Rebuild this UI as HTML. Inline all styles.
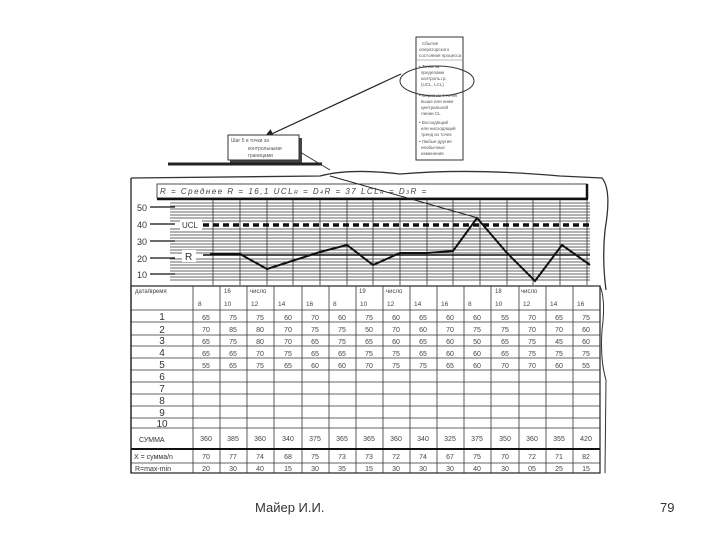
<!DOCTYPE html>
<html><head><meta charset="utf-8"><style>
html,body{margin:0;padding:0;background:#fff;width:720px;height:540px;overflow:hidden}
svg text{font-family:"Liberation Sans",sans-serif}
</style></head><body>
<svg width="720" height="540" viewBox="0 0 720 540" xmlns="http://www.w3.org/2000/svg">
<defs><marker id="ah" markerWidth="8" markerHeight="8" refX="7" refY="4" orient="auto"><path d="M0,0 L8,4 L0,8 z" fill="#222"/></marker></defs>
<!-- right process box -->
<rect x="416" y="37" width="47" height="123" fill="#fff" stroke="#333" stroke-width="1"/>
<g font-size="4.5" fill="#555">
<text x="422" y="45">Сбытие</text><text x="419" y="51">операторского</text><text x="419" y="57">состояния процесса</text>
<line x1="417" y1="60" x2="462" y2="60" stroke="#777" stroke-width="0.6"/>
<text x="419" y="68">• Точка за</text><text x="421" y="74">пределами</text><text x="421" y="80">контроль.гр.</text><text x="421" y="86">(UCL, LCL)</text>
<text x="419" y="97">• Серия из 7 точек</text><text x="421" y="103">выше или ниже</text><text x="421" y="109">центральной</text><text x="421" y="115">линии CL</text>
<text x="419" y="124">• Восходящий</text><text x="421" y="130">или нисходящий</text><text x="421" y="136">тренд из точек</text>
<text x="419" y="143">• Любые другие</text><text x="421" y="149">необычные</text><text x="421" y="155">изменения</text>
</g>
<ellipse cx="437" cy="81" rx="37" ry="15" fill="none" stroke="#333" stroke-width="1"/>
<line x1="401" y1="74" x2="265" y2="137" stroke="#222" stroke-width="1.2" marker-end="url(#ah)"/>
<!-- small box -->
<rect x="230" y="138" width="72" height="25" fill="#444"/>
<rect x="228" y="135" width="71" height="25" fill="#fff" stroke="#333"/>
<g font-size="5" fill="#555"><text x="231" y="142">Шаг 5 и точки за</text><text x="248" y="150">контрольными</text><text x="248" y="157">границами</text></g>
<line x1="300" y1="152" x2="330" y2="170" stroke="#333" stroke-width="1"/>
<!-- frame -->
<path d="M131,178 L320,176 Q350,168 400,174 Q470,168 560,176 L602,178 Q612,190 605,230 Q602,260 606,290" fill="none" stroke="#333" stroke-width="1.3"/>
<line x1="131" y1="178" x2="131" y2="473" stroke="#222" stroke-width="1.3"/>
<line x1="168" y1="164" x2="322" y2="164" stroke="#222" stroke-width="3"/>
<!-- header bar -->
<rect x="157" y="184" width="430" height="14" fill="#fff" stroke="#222" stroke-width="0.8"/>
<line x1="157" y1="199" x2="588" y2="199" stroke="#111" stroke-width="2.5"/>
<line x1="587" y1="184" x2="587" y2="199" stroke="#111" stroke-width="2.5"/>
<text x="160" y="194" font-size="8" fill="#444" font-style="italic" letter-spacing="1.5">R = Среднее R = 16,1    UCL<tspan font-size="5">R</tspan> = D<tspan font-size="5">4</tspan>R = 37    LCL<tspan font-size="5">R</tspan> = D<tspan font-size="5">3</tspan>R =</text>
<!-- grid -->
<g stroke="#333" stroke-width="0.8">
<line x1="170" y1="203" x2="590" y2="203"/><line x1="170" y1="206" x2="590" y2="206"/><line x1="170" y1="209" x2="590" y2="209"/><line x1="170" y1="212" x2="590" y2="212"/><line x1="170" y1="215" x2="590" y2="215"/><line x1="170" y1="218" x2="590" y2="218"/><line x1="170" y1="221" x2="590" y2="221"/>
<line x1="170" y1="229" x2="590" y2="229"/><line x1="170" y1="232" x2="590" y2="232"/><line x1="170" y1="235" x2="590" y2="235"/><line x1="170" y1="238" x2="590" y2="238"/><line x1="170" y1="241" x2="590" y2="241"/><line x1="170" y1="244" x2="590" y2="244"/><line x1="170" y1="247" x2="590" y2="247"/><line x1="170" y1="250" x2="590" y2="250"/><line x1="170" y1="253" x2="590" y2="253"/>
<line x1="170" y1="259" x2="590" y2="259"/><line x1="170" y1="262" x2="590" y2="262"/><line x1="170" y1="265" x2="590" y2="265"/><line x1="170" y1="268" x2="590" y2="268"/><line x1="170" y1="271" x2="590" y2="271"/><line x1="170" y1="274" x2="590" y2="274"/><line x1="170" y1="277" x2="590" y2="277"/><line x1="170" y1="280" x2="590" y2="280"/>
</g>
<g stroke="#333" stroke-width="0.8">
<line x1="213" y1="200" x2="213" y2="285"/><line x1="240" y1="200" x2="240" y2="285"/><line x1="267" y1="200" x2="267" y2="285"/><line x1="293" y1="200" x2="293" y2="285"/><line x1="320" y1="200" x2="320" y2="285"/><line x1="347" y1="200" x2="347" y2="285"/><line x1="373" y1="200" x2="373" y2="285"/><line x1="400" y1="200" x2="400" y2="285"/><line x1="427" y1="200" x2="427" y2="285"/><line x1="453" y1="200" x2="453" y2="285"/><line x1="480" y1="200" x2="480" y2="285"/><line x1="507" y1="200" x2="507" y2="285"/><line x1="533" y1="200" x2="533" y2="285"/><line x1="560" y1="200" x2="560" y2="285"/><line x1="587" y1="200" x2="587" y2="285"/>
</g>
<g stroke="#111" stroke-width="1.3">
<line x1="150" y1="207" x2="175" y2="207"/><line x1="150" y1="224" x2="175" y2="224"/><line x1="150" y1="241" x2="175" y2="241"/><line x1="150" y1="258" x2="175" y2="258"/><line x1="150" y1="274" x2="175" y2="274"/>
</g>
<g font-size="9" fill="#333"><text x="137" y="211">50</text><text x="137" y="228">40</text><text x="137" y="245">30</text><text x="137" y="262">20</text><text x="137" y="278">10</text></g>
<rect x="180" y="219" width="22" height="11" fill="#fff"/><text x="182" y="228" font-size="8" fill="#333">UCL</text>
<rect x="182" y="250" width="14" height="12" fill="#fff"/><text x="185" y="260" font-size="10" fill="#333">R</text>
<line x1="203" y1="225" x2="590" y2="225" stroke="#111" stroke-width="3.5" stroke-dasharray="6,4"/>
<line x1="203" y1="255" x2="590" y2="255" stroke="#111" stroke-width="1.5"/>
<polyline points="210,254 240,254 267,269 320,252 347,245 373,265 400,253 427,253 453,251 477,218 507,253 535,281 562,245 590,265" fill="none" stroke="#111" stroke-width="2"/>
<line x1="330" y1="176" x2="478" y2="218" stroke="#222" stroke-width="1"/>
<!-- table -->
<rect x="131" y="286" width="469" height="187" fill="none" stroke="#222" stroke-width="1.2"/>
<g stroke="#333" stroke-width="0.8">
<line x1="131" y1="310" x2="600" y2="310"/><line x1="131" y1="322" x2="600" y2="322"/><line x1="131" y1="335" x2="600" y2="335"/><line x1="131" y1="346" x2="600" y2="346"/><line x1="131" y1="358" x2="600" y2="358"/><line x1="131" y1="370" x2="600" y2="370"/><line x1="131" y1="382" x2="600" y2="382"/><line x1="131" y1="394" x2="600" y2="394"/><line x1="131" y1="406" x2="600" y2="406"/><line x1="131" y1="418" x2="600" y2="418"/><line x1="131" y1="428" x2="600" y2="428"/><line x1="131" y1="463" x2="600" y2="463"/>
<line x1="193" y1="286" x2="193" y2="473"/><line x1="220" y1="286" x2="220" y2="473"/><line x1="247" y1="286" x2="247" y2="473"/><line x1="274" y1="286" x2="274" y2="473"/><line x1="302" y1="286" x2="302" y2="473"/><line x1="329" y1="286" x2="329" y2="473"/><line x1="356" y1="286" x2="356" y2="473"/><line x1="383" y1="286" x2="383" y2="473"/><line x1="410" y1="286" x2="410" y2="473"/><line x1="437" y1="286" x2="437" y2="473"/><line x1="464" y1="286" x2="464" y2="473"/><line x1="491" y1="286" x2="491" y2="473"/><line x1="519" y1="286" x2="519" y2="473"/><line x1="546" y1="286" x2="546" y2="473"/><line x1="573" y1="286" x2="573" y2="473"/>
</g>
<line x1="131" y1="449" x2="600" y2="449" stroke="#111" stroke-width="2"/>
<g font-size="6" fill="#444">
<text x="135" y="293">дата/время</text>
<text x="224" y="293">16</text><text x="250" y="293">число</text><text x="359" y="293">19</text><text x="386" y="293">число</text><text x="495" y="293">18</text><text x="521" y="293">число</text>
<g font-size="6.5">
<text x="198" y="306">8</text><text x="224" y="306">10</text><text x="251" y="306">12</text><text x="278" y="306">14</text><text x="306" y="306">16</text><text x="333" y="306">8</text><text x="360" y="306">10</text><text x="387" y="306">12</text><text x="414" y="306">14</text><text x="441" y="306">16</text><text x="468" y="306">8</text><text x="495" y="306">10</text><text x="523" y="306">12</text><text x="550" y="306">14</text><text x="577" y="306">16</text>
</g></g>
<g font-size="10" fill="#333" text-anchor="middle">
<text x="162" y="320">1</text><text x="162" y="333">2</text><text x="162" y="344">3</text><text x="162" y="356">4</text><text x="162" y="368">5</text><text x="162" y="380">6</text><text x="162" y="392">7</text><text x="162" y="404">8</text><text x="162" y="416">9</text><text x="162" y="427">10</text>
</g>
<g font-size="7" fill="#333"><text x="139" y="442">СУММА</text><text x="134" y="459">X = сумма/n</text><text x="135" y="471">R=max-min</text></g>
<g font-size="7" fill="#444" text-anchor="middle">
<text y="320"><tspan x="206">65</tspan><tspan x="233">75</tspan><tspan x="260">75</tspan><tspan x="288">60</tspan><tspan x="315">70</tspan><tspan x="342">60</tspan><tspan x="369">75</tspan><tspan x="396">60</tspan><tspan x="423">65</tspan><tspan x="450">60</tspan><tspan x="477">60</tspan><tspan x="505">55</tspan><tspan x="532">70</tspan><tspan x="559">65</tspan><tspan x="586">75</tspan></text>
<text y="332"><tspan x="206">70</tspan><tspan x="233">85</tspan><tspan x="260">80</tspan><tspan x="288">70</tspan><tspan x="315">75</tspan><tspan x="342">75</tspan><tspan x="369">50</tspan><tspan x="396">70</tspan><tspan x="423">60</tspan><tspan x="450">70</tspan><tspan x="477">75</tspan><tspan x="505">75</tspan><tspan x="532">70</tspan><tspan x="559">70</tspan><tspan x="586">60</tspan></text>
<text y="344"><tspan x="206">65</tspan><tspan x="233">75</tspan><tspan x="260">80</tspan><tspan x="288">70</tspan><tspan x="315">65</tspan><tspan x="342">75</tspan><tspan x="369">65</tspan><tspan x="396">60</tspan><tspan x="423">65</tspan><tspan x="450">60</tspan><tspan x="477">50</tspan><tspan x="505">65</tspan><tspan x="532">75</tspan><tspan x="559">45</tspan><tspan x="586">60</tspan></text>
<text y="356"><tspan x="206">65</tspan><tspan x="233">65</tspan><tspan x="260">70</tspan><tspan x="288">75</tspan><tspan x="315">65</tspan><tspan x="342">65</tspan><tspan x="369">75</tspan><tspan x="396">75</tspan><tspan x="423">65</tspan><tspan x="450">60</tspan><tspan x="477">60</tspan><tspan x="505">65</tspan><tspan x="532">75</tspan><tspan x="559">75</tspan><tspan x="586">75</tspan></text>
<text y="368"><tspan x="206">55</tspan><tspan x="233">65</tspan><tspan x="260">75</tspan><tspan x="288">65</tspan><tspan x="315">60</tspan><tspan x="342">60</tspan><tspan x="369">70</tspan><tspan x="396">75</tspan><tspan x="423">75</tspan><tspan x="450">65</tspan><tspan x="477">60</tspan><tspan x="505">70</tspan><tspan x="532">70</tspan><tspan x="559">60</tspan><tspan x="586">55</tspan></text>
<text y="441"><tspan x="206">360</tspan><tspan x="233">385</tspan><tspan x="260">360</tspan><tspan x="288">340</tspan><tspan x="315">375</tspan><tspan x="342">365</tspan><tspan x="369">365</tspan><tspan x="396">360</tspan><tspan x="423">340</tspan><tspan x="450">325</tspan><tspan x="477">375</tspan><tspan x="505">350</tspan><tspan x="532">360</tspan><tspan x="559">355</tspan><tspan x="586">420</tspan></text>
<text y="459"><tspan x="206">70</tspan><tspan x="233">77</tspan><tspan x="260">74</tspan><tspan x="288">68</tspan><tspan x="315">75</tspan><tspan x="342">73</tspan><tspan x="369">73</tspan><tspan x="396">72</tspan><tspan x="423">74</tspan><tspan x="450">67</tspan><tspan x="477">75</tspan><tspan x="505">70</tspan><tspan x="532">72</tspan><tspan x="559">71</tspan><tspan x="586">82</tspan></text>
<text y="471"><tspan x="206">20</tspan><tspan x="233">30</tspan><tspan x="260">40</tspan><tspan x="288">15</tspan><tspan x="315">30</tspan><tspan x="342">35</tspan><tspan x="369">15</tspan><tspan x="396">30</tspan><tspan x="423">30</tspan><tspan x="450">30</tspan><tspan x="477">40</tspan><tspan x="505">30</tspan><tspan x="532">05</tspan><tspan x="559">25</tspan><tspan x="586">15</tspan></text>
</g>
<path d="M600,286 Q606,300 602,330 Q600,360 606,380 L605,473" fill="none" stroke="#333" stroke-width="1"/>
<text x="255" y="512" font-size="13" fill="#333">Майер И.И.</text>
<text x="660" y="512" font-size="13" fill="#333">79</text>
</svg>
</body></html>
